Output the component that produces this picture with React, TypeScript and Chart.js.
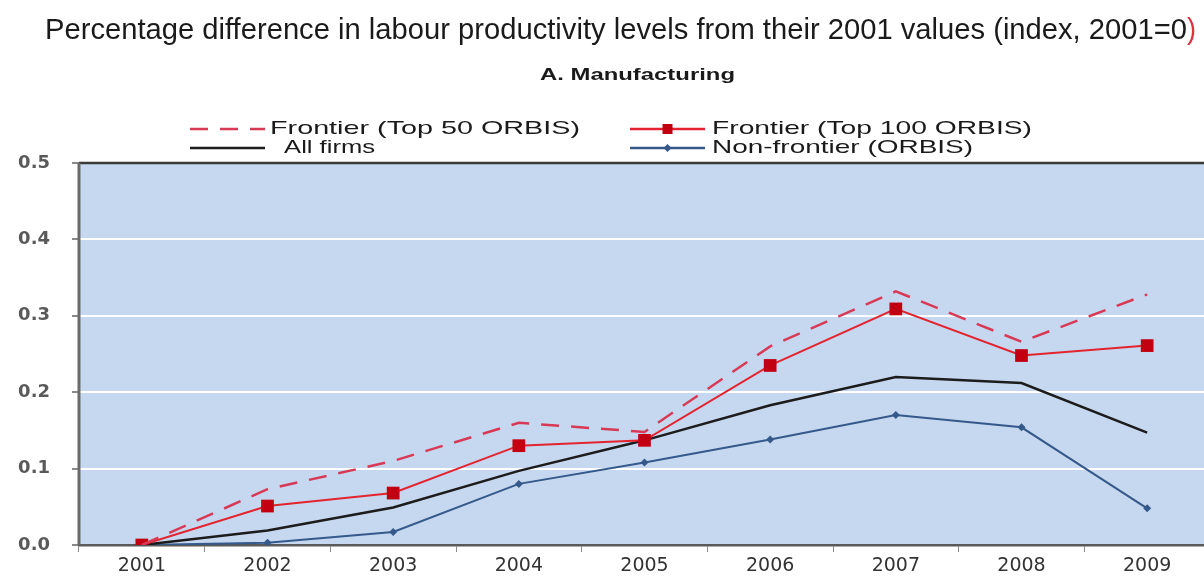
import React, { useEffect, useRef } from "react";
import { Chart, registerables } from "chart.js";

Chart.register(...registerables);

const years = ["2001", "2002", "2003", "2004", "2005", "2006", "2007", "2008", "2009"];
const top50 = [0, 0.073, 0.11, 0.16, 0.148, 0.26, 0.332, 0.266, 0.328];
const top100 = [0, 0.051, 0.068, 0.13, 0.137, 0.235, 0.309, 0.248, 0.261];
const allFirms = [0, 0.019, 0.049, 0.097, 0.137, 0.183, 0.22, 0.212, 0.147];
const nonFrontier = [0, 0.003, 0.017, 0.08, 0.108, 0.138, 0.17, 0.154, 0.048];
const yTicks = [0, 0.1, 0.2, 0.3, 0.4, 0.5];

const titleText = "Percentage difference in labour productivity levels from their 2001 values (index, 2001=0";
const subtitleText = "A. Manufacturing";
const legendLabels = ["Frontier (Top 50 ORBIS)", "Frontier (Top 100 ORBIS)", " All firms", "Non-frontier (ORBIS)"];

const C_TOP50 = "#d83a56";
const C_TOP100 = "#e3242f";
const C_TOP100_PT = "#c30012";
const C_ALL = "#1c1c1c";
const C_NON = "#34598a";

function fitText(ctx: CanvasRenderingContext2D, text: string, x: number, y: number, w: number, font: string, color: string) {
  ctx.save();
  ctx.font = font;
  ctx.fillStyle = color;
  ctx.textBaseline = "middle";
  ctx.textAlign = "left";
  const m = ctx.measureText(text).width;
  ctx.translate(x, y);
  ctx.scale(w / m, 1);
  ctx.fillText(text, 0, 0);
  ctx.restore();
}

const decorPlugin = {
  id: "decor",
  beforeDraw(chart: any) {
    const { ctx, chartArea } = chart;
    ctx.save();
    ctx.fillStyle = "#ffffff";
    ctx.fillRect(0, 0, chart.width, chart.height);
    ctx.fillStyle = "#c6d8ef";
    ctx.fillRect(chartArea.left, chartArea.top, chartArea.right - chartArea.left, chartArea.bottom - chartArea.top);
    ctx.restore();
  },
  afterDatasetsDraw(chart: any) {
    const { ctx, chartArea } = chart;
    ctx.save();
    ctx.strokeStyle = "#3a3a3a";
    ctx.lineWidth = 2.5;
    ctx.beginPath();
    ctx.moveTo(chartArea.left, chartArea.top);
    ctx.lineTo(chartArea.right, chartArea.top);
    ctx.stroke();
    ctx.strokeStyle = "#6a6a6a";
    ctx.lineWidth = 3;
    ctx.beginPath();
    ctx.moveTo(chartArea.left, chartArea.top);
    ctx.lineTo(chartArea.left, chartArea.bottom);
    ctx.stroke();
    ctx.restore();
  },
  afterDraw(chart: any) {
    const ctx: CanvasRenderingContext2D = chart.ctx;
    fitText(ctx, titleText, 45, 31, 1142, "29px 'Liberation Sans'", "#1a1a1a");
    fitText(ctx, ")", 1187, 31, 9, "29px 'Liberation Sans'", "#e0303a");
    fitText(ctx, subtitleText, 540, 75, 195, "bold 17px 'Liberation Sans'", "#1a1a1a");
    const rows = [129, 148];
    const cols = [[190, 265], [630, 705]];
    const textWidths = [310, 320, 98, 261];
    const textX = [270, 712, 277, 712];
    for (let i = 0; i < 4; i++) {
      const r = rows[Math.floor(i / 2)];
      const c = cols[i % 2];
      ctx.save();
      ctx.lineWidth = 2.5;
      if (i === 0) {
        ctx.strokeStyle = C_TOP50;
        ctx.setLineDash([18, 12]);
      } else if (i === 1) ctx.strokeStyle = C_TOP100;
      else if (i === 2) ctx.strokeStyle = C_ALL;
      else ctx.strokeStyle = C_NON;
      ctx.beginPath();
      ctx.moveTo(c[0], r);
      ctx.lineTo(c[1], r);
      ctx.stroke();
      ctx.setLineDash([]);
      const mx = (c[0] + c[1]) / 2;
      if (i === 1) {
        ctx.fillStyle = C_TOP100_PT;
        ctx.fillRect(mx - 5, r - 5, 10, 10);
      } else if (i === 3) {
        ctx.fillStyle = C_NON;
        ctx.beginPath();
        ctx.moveTo(mx, r - 4);
        ctx.lineTo(mx + 4, r);
        ctx.lineTo(mx, r + 4);
        ctx.lineTo(mx - 4, r);
        ctx.closePath();
        ctx.fill();
      }
      ctx.restore();
      fitText(ctx, legendLabels[i], textX[i], r, textWidths[i], "19px 'Liberation Sans'", "#1a1a1a");
    }
  },
};

export default function App() {
  const ref = useRef<HTMLCanvasElement | null>(null);
  useEffect(() => {
    document.body.style.margin = "0";
    document.body.style.overflow = "hidden";
    const canvas = ref.current;
    if (!canvas) return;
    const chart = new Chart(canvas, {
      type: "line",
      data: {
        labels: years,
        datasets: [
          {
            label: legendLabels[0],
            data: top50,
            borderColor: C_TOP50,
            borderWidth: 2.5,
            borderDash: [18, 12],
            pointRadius: 0,
            tension: 0,
          },
          {
            label: legendLabels[1],
            data: top100,
            borderColor: C_TOP100,
            borderWidth: 2,
            pointStyle: "rect",
            pointRadius: 9,
            pointBackgroundColor: C_TOP100_PT,
            pointBorderColor: C_TOP100_PT,
            pointBorderWidth: 0,
            tension: 0,
          },
          {
            label: legendLabels[2],
            data: allFirms,
            borderColor: C_ALL,
            borderWidth: 2.5,
            pointRadius: 0,
            tension: 0,
          },
          {
            label: legendLabels[3],
            data: nonFrontier,
            borderColor: C_NON,
            borderWidth: 2,
            pointStyle: "rectRot",
            pointRadius: 4,
            pointBackgroundColor: C_NON,
            pointBorderColor: C_NON,
            pointBorderWidth: 0,
            tension: 0,
          },
        ],
      },
      options: {
        animation: false,
        responsive: false,
        layout: { autoPadding: false, padding: { top: 163, right: 2, left: 0, bottom: 0 } },
        plugins: {
          legend: { display: false },
          title: { display: false },
          tooltip: { enabled: false },
        },
        scales: {
          x: {
            type: "category",
            offset: true,
            grid: { drawOnChartArea: false, drawTicks: true, tickLength: 7, color: "#8a8a8a", offset: true },
            border: { display: true, color: "#5a5a5a", width: 2.5 },
            ticks: { color: "#333333", font: { family: "'DejaVu Sans'", size: 19 }, padding: 3 },
            afterFit: (s: any) => {
              s.height = 34;
              s.paddingLeft = 0;
              s.paddingRight = 0;
            },
          },
          y: {
            min: 0,
            max: 0.5,
            afterBuildTicks: (s: any) => {
              s.ticks = yTicks.map((v) => ({ value: v }));
            },
            grid: {
              color: (c: any) => (c.tick && c.tick.value > 0.001 && c.tick.value < 0.499 ? "#ffffff" : "rgba(0,0,0,0)"),
              tickColor: "#8a8a8a",
              lineWidth: 2,
              tickLength: 7,
            },
            border: { display: false },
            ticks: {
              color: "#5a5a5a",
              font: { family: "'DejaVu Sans'", size: 18, weight: "bold" },
              padding: 22,
              callback: (v: any) => Number(v).toFixed(1),
            },
            afterFit: (s: any) => {
              s.width = 79;
            },
          },
        },
      },
      plugins: [decorPlugin],
    } as any);
    return () => chart.destroy();
  }, []);
  return (
    <div style={{ position: "absolute", left: 0, top: 0, width: 1204, height: 579, overflow: "hidden", background: "#fff" }}>
      <div style={{ position: "absolute", left: 0, top: 0, width: 1212, height: 579 }}>
        <canvas ref={ref} width={1212} height={579} style={{ display: "block", width: 1212, height: 579 }} />
      </div>
    </div>
  );
}
